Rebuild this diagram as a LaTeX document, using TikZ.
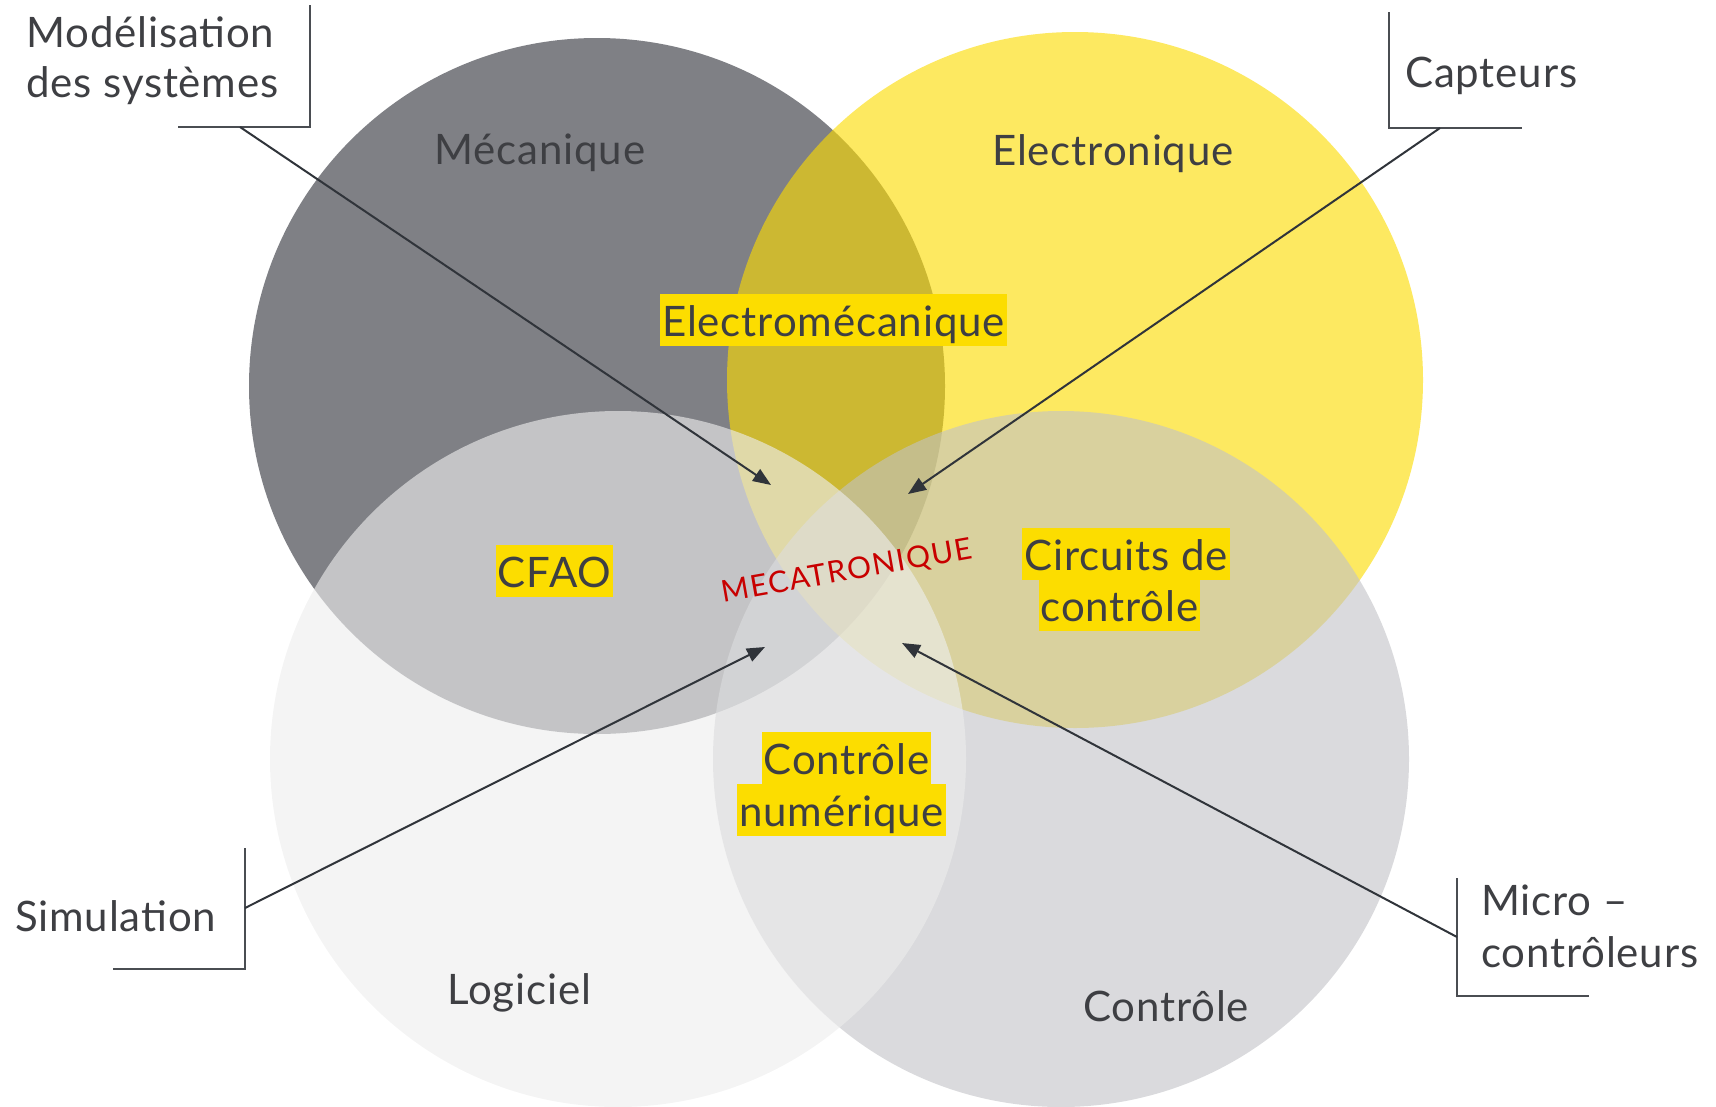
\documentclass[tikz,border=0pt]{standalone}
\usepackage{fontspec}
\setmainfont{Lato}[LetterSpace=2]
\usetikzlibrary{arrows.meta}
\definecolor{mecgray}{RGB}{127,128,133}
\definecolor{elecyellow}{RGB}{252,219,0}
\definecolor{ctrlgray}{RGB}{193,194,198}
\definecolor{logigray}{RGB}{237,237,237}
\definecolor{hlyellow}{RGB}{252,221,0}
\definecolor{textgray}{RGB}{62,63,67}
\definecolor{linegray}{RGB}{48,52,58}
\definecolor{framegray}{RGB}{74,77,82}
\definecolor{mecared}{RGB}{200,0,0}
\tikzset{
  bigtext/.style={font=\fontsize{42}{50}\selectfont, text=textgray, inner sep=0pt},
  fieldname/.style={bigtext, anchor=base},
  callout/.style={bigtext, anchor=base west},
  highlight/.style={bigtext, anchor=base, fill=hlyellow, inner xsep=2pt,
    text height=42pt, text depth=10pt},
  frame/.style={draw=framegray, line width=1.6pt},
  pointer/.style={draw=linegray, line width=2pt, -{Triangle[length=18pt,width=14pt]}}
}
\begin{document}
\begin{tikzpicture}[x=1pt, y=-1pt]
  \useasboundingbox (0,0) rectangle (1716,1106);
  \coordinate (mec) at (597,386);
  \coordinate (elec) at (1075,380);
  \coordinate (ctrl) at (1061,759);
  \coordinate (logi) at (618,759);
  \fill[mecgray] (mec) circle [radius=348pt];
  \fill[elecyellow, fill opacity=.62] (elec) circle [radius=348pt];
  \fill[ctrlgray, fill opacity=.6] (ctrl) circle [radius=348pt];
  \fill[logigray, fill opacity=.63] (logi) circle [radius=348pt];

  \draw
    (540,164) node[fieldname] (mectext) {Mécanique}
    (1113,165) node[fieldname] (electext) {Electronique}
    (519,1004) node[fieldname] (logitext) {Logiciel}
    (1166,1021) node[fieldname] (ctrltext) {Contrôle}
    (833.5,336) node[highlight] (electromec) {Electromécanique}
    (554.5,587) node[highlight] (cfao) {CFAO}
    (1126,570) node[highlight] (circuitsa) {Circuits de\ }
    (1119.5,621) node[highlight] (circuitsb) {contrôle}
    (846.5,774) node[highlight] (numeriquea) {Contrôle\ }
    (841.5,826) node[highlight] (numeriqueb) {numérique}
    (847,572) node[rotate=10, text=mecared, inner sep=0pt,
      font=\fontsize{30}{35}\selectfont\addfontfeature{LetterSpace=5}] (meca) {MECATRONIQUE}
    (26,47) node[callout] (modela) {Modélisation}
    (26,97) node[callout] (modelb) {des systèmes}
    (1405,87) node[callout] (capteurs) {Capteurs}
    (15,931) node[callout] (simulation) {Simulation}
    (1481,915) node[callout] (microa) {Micro –}
    (1481,967) node[callout] (microb) {contrôleurs};

  \coordinate (modeltop) at (310,5);
  \coordinate (modelcorner) at (310,127);
  \coordinate (modelend) at (178,127);
  \coordinate (modelfoot) at (240,127);
  \coordinate (modeltip) at (771,485);
  \coordinate (capttop) at (1389,12);
  \coordinate (captcorner) at (1389,128);
  \coordinate (captend) at (1522,128);
  \coordinate (captfoot) at (1440,128);
  \coordinate (capttip) at (908,494);
  \coordinate (simtop) at (245,848);
  \coordinate (simcorner) at (245,969);
  \coordinate (simend) at (113,969);
  \coordinate (simfoot) at (245,908);
  \coordinate (simtip) at (765,647);
  \coordinate (microtop) at (1457,878);
  \coordinate (microcorner) at (1457,996);
  \coordinate (microend) at (1589,996);
  \coordinate (microfoot) at (1457,937);
  \coordinate (microtip) at (902,643);

  \begin{scope}[frame]
    \draw (modeltop) -- (modelcorner) -- (modelend);
    \draw (capttop) -- (captcorner) -- (captend);
    \draw (simtop) -- (simcorner) -- (simend);
    \draw (microtop) -- (microcorner) -- (microend);
  \end{scope}
  \begin{scope}[pointer]
    \draw (modelfoot) to (modeltip);
    \draw (captfoot) to (capttip);
    \draw (simfoot) to (simtip);
    \draw (microfoot) to (microtip);
  \end{scope}
\end{tikzpicture}
\end{document}
